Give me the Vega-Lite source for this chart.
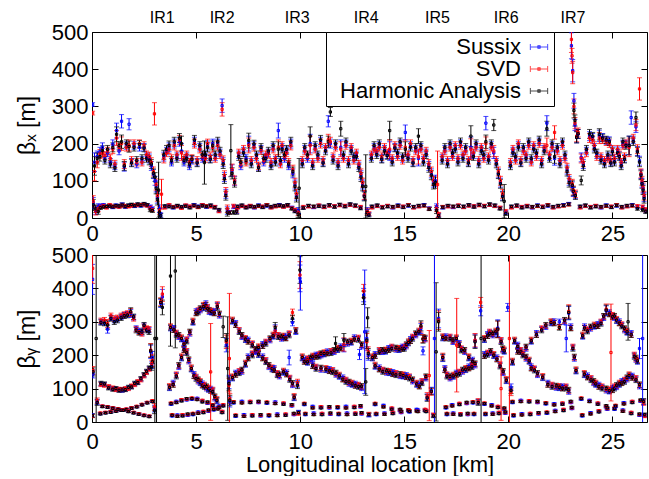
{
"$schema":"https://vega.github.io/schema/vega-lite/v6.json",
"padding":{"left":15,"top":9,"right":0,"bottom":0},
"spacing":-2,
"config":{
 "font":"Liberation Sans",
 "view":{"stroke":"black","strokeWidth":1},
 "axis":{"labelFont":"Liberation Sans","labelFontSize":22,"labelColor":"black","titleFont":"Liberation Sans","titleFontSize":23,"titleFontWeight":"normal","titleColor":"black","domain":false,"grid":false,"tickColor":"black","tickSize":-6,"labelFlush":false,"labelOverlap":false}
},
"resolve":{"scale":{"color":"independent"},"legend":{"color":"independent"}},
"datasets":{
"bx":[
{"k":0.03,"S":305,"V":282,"e":5},
{"k":0.06,"S":40,"V":45,"H":35,"e":15},
{"k":0.12,"S":150,"V":125,"H":140,"e":25},
{"k":0.18,"S":20,"V":18,"H":25,"e":10},
{"k":0.25,"S":165,"V":150,"H":160,"e":15},
{"k":0.3,"S":30,"V":25,"H":18,"e":8},
{"k":0.38,"S":178,"V":172,"H":165,"e":12},
{"k":0.5,"S":190,"V":175,"H":182,"e":12},
{"k":0.62,"S":160,"V":168,"H":155,"e":10},
{"k":0.75,"S":175,"V":180,"H":185,"e":10},
{"k":0.88,"S":150,"V":160,"H":145,"e":10},
{"k":1.0,"S":198,"V":185,"H":190,"e":12},
{"k":1.1,"S":140,"V":145,"H":135,"e":10},
{"k":1.18,"S":235,"V":215,"H":225,"e":20},
{"k":1.3,"S":180,"V":190,"H":195,"e":10},
{"k":1.42,"S":260,"V":200,"H":205,"e":18},
{"k":1.55,"S":138,"V":145,"H":140,"e":12},
{"k":1.65,"S":195,"V":190,"H":200,"e":10},
{"k":1.78,"S":252,"V":195,"H":192,"e":15},
{"k":1.9,"S":150,"V":155,"H":148,"e":10},
{"k":2.02,"S":195,"V":200,"H":190,"e":10},
{"k":2.15,"S":145,"V":150,"H":155,"e":10},
{"k":2.28,"S":190,"V":200,"H":198,"e":10},
{"k":2.4,"S":155,"V":150,"H":160,"e":10},
{"k":2.5,"S":190,"V":195,"H":188,"e":10},
{"k":2.62,"S":165,"V":170,"H":160,"e":10},
{"k":2.75,"S":160,"V":165,"H":155,"e":12},
{"k":2.85,"S":140,"V":150,"H":145,"e":12},
{"k":2.95,"S":118,"V":125,"H":120,"e":12},
{"k":3.0,"V":280,"e":30},
{"k":3.03,"S":100,"H":110,"e":12},
{"k":3.08,"S":85,"V":90,"H":80,"e":15},
{"k":3.14,"S":55,"V":60,"H":50,"e":15},
{"k":3.2,"H":75,"e":75},
{"k":3.24,"S":25,"V":20,"H":15,"e":10},
{"k":3.3,"S":8,"H":6,"e":6},
{"k":3.34,"V":64,"e":40},
{"k":0.4,"S":32,"V":30,"H":28,"e":5},
{"k":0.55,"S":35,"V":33,"H":30,"e":4},
{"k":0.7,"S":30,"V":28,"H":31,"e":4},
{"k":0.85,"S":33,"V":35,"H":32,"e":4},
{"k":1.0,"S":29,"V":31,"H":30,"e":4},
{"k":1.15,"S":34,"V":32,"H":33,"e":4},
{"k":1.3,"S":31,"V":30,"H":32,"e":4},
{"k":1.45,"S":36,"V":34,"H":35,"e":5},
{"k":1.6,"S":30,"V":32,"H":31,"e":4},
{"k":1.75,"S":33,"V":31,"H":34,"e":4},
{"k":1.9,"S":35,"V":33,"H":36,"e":4},
{"k":2.05,"S":32,"V":34,"H":33,"e":4},
{"k":2.2,"S":36,"V":35,"H":37,"e":4},
{"k":2.35,"S":33,"V":35,"H":34,"e":4},
{"k":2.5,"S":37,"V":36,"H":38,"e":4},
{"k":2.65,"S":34,"V":33,"H":35,"e":4},
{"k":2.8,"S":30,"V":28,"H":22,"e":5},
{"k":2.9,"S":25,"V":22,"H":20,"e":5},
{"k":3.45,"S":165,"V":160,"H":170,"e":12},
{"k":3.58,"S":180,"V":175,"H":185,"e":10},
{"k":3.7,"S":190,"V":185,"H":195,"e":12},
{"k":3.82,"S":150,"V":160,"H":155,"e":10},
{"k":3.95,"S":200,"V":195,"H":205,"e":12},
{"k":4.08,"S":165,"V":170,"H":160,"e":10},
{"k":4.2,"S":205,"V":210,"H":215,"e":12},
{"k":4.3,"S":180,"V":175,"H":200,"e":20},
{"k":4.42,"S":150,"V":160,"H":155,"e":10},
{"k":4.55,"S":165,"V":170,"H":160,"e":10},
{"k":4.68,"S":140,"V":150,"H":145,"e":10},
{"k":4.8,"S":155,"V":160,"H":158,"e":10},
{"k":4.92,"S":205,"V":200,"H":210,"e":12},
{"k":5.05,"S":150,"V":155,"H":148,"e":10},
{"k":5.18,"S":190,"V":185,"H":195,"e":10},
{"k":5.3,"S":160,"V":165,"H":170,"e":10},
{"k":5.4,"H":149,"e":58},
{"k":5.45,"S":165,"V":160,"H":170,"e":10},
{"k":5.55,"S":195,"V":200,"H":190,"e":12},
{"k":5.68,"S":160,"V":165,"H":158,"e":10},
{"k":5.8,"S":200,"V":190,"H":195,"e":12},
{"k":5.92,"S":165,"V":160,"H":170,"e":10},
{"k":6.04,"S":200,"V":195,"H":205,"e":12},
{"k":6.15,"S":175,"V":170,"H":180,"e":10},
{"k":6.25,"S":302,"V":292,"e":18},
{"k":6.3,"S":150,"V":155,"H":145,"e":12},
{"k":6.36,"S":110,"V":115,"H":105,"e":12},
{"k":6.43,"S":65,"V":70,"H":60,"e":12},
{"k":6.5,"S":20,"V":25,"H":15,"e":10},
{"k":6.67,"H":181,"e":70},
{"k":6.73,"S":128,"V":130,"H":120,"e":15},
{"k":6.85,"S":100,"V":101,"H":95,"e":12},
{"k":6.95,"S":20,"V":22,"H":18,"e":8},
{"k":3.5,"S":30,"V":28,"H":32,"e":4},
{"k":3.7,"S":33,"V":35,"H":31,"e":4},
{"k":3.9,"S":28,"V":30,"H":29,"e":4},
{"k":4.1,"S":32,"V":31,"H":33,"e":4},
{"k":4.3,"S":29,"V":27,"H":30,"e":4},
{"k":4.5,"S":33,"V":34,"H":32,"e":4},
{"k":4.7,"S":30,"V":31,"H":28,"e":4},
{"k":4.9,"S":35,"V":33,"H":34,"e":4},
{"k":5.1,"S":31,"V":29,"H":30,"e":4},
{"k":5.3,"S":34,"V":35,"H":33,"e":4},
{"k":5.5,"S":30,"V":32,"H":31,"e":4},
{"k":5.7,"S":33,"V":31,"H":34,"e":4},
{"k":5.9,"S":29,"V":30,"H":28,"e":4},
{"k":6.1,"S":20,"V":18,"H":22,"e":4},
{"k":6.6,"S":16,"V":15,"H":14,"e":4},
{"k":6.8,"S":30,"V":32,"H":15,"e":5},
{"k":7.05,"S":170,"V":175,"H":165,"e":10},
{"k":7.15,"S":140,"V":145,"H":150,"e":10},
{"k":7.28,"S":180,"V":185,"H":175,"e":10},
{"k":7.4,"S":160,"V":150,"H":155,"e":10},
{"k":7.53,"S":200,"V":195,"H":208,"e":20},
{"k":7.65,"S":150,"V":155,"H":145,"e":10},
{"k":7.78,"S":195,"V":190,"H":199,"e":10},
{"k":7.9,"S":165,"V":160,"H":170,"e":10},
{"k":8.0,"S":137,"V":140,"H":135,"e":10},
{"k":8.12,"S":185,"V":181,"H":190,"e":10},
{"k":8.25,"S":150,"V":155,"H":160,"e":10},
{"k":8.35,"S":164,"V":170,"H":160,"e":10},
{"k":8.47,"S":175,"V":173,"H":180,"e":10},
{"k":8.6,"S":145,"V":150,"H":140,"e":10},
{"k":8.7,"S":190,"V":185,"H":195,"e":10},
{"k":8.81,"S":155,"V":160,"H":150,"e":10},
{"k":8.95,"S":235,"V":190,"H":185,"e":20},
{"k":9.05,"S":150,"V":145,"H":155,"e":10},
{"k":9.13,"S":190,"V":195,"H":185,"e":10},
{"k":9.25,"S":160,"V":165,"H":170,"e":10},
{"k":9.35,"S":181,"V":175,"H":185,"e":10},
{"k":9.45,"S":140,"V":150,"H":145,"e":10},
{"k":9.55,"S":200,"V":195,"H":205,"e":12},
{"k":9.65,"S":120,"V":130,"H":125,"e":12},
{"k":9.75,"S":90,"V":95,"H":85,"e":12},
{"k":9.82,"S":60,"V":65,"H":55,"e":12},
{"k":9.9,"S":20,"V":15,"H":10,"e":8},
{"k":9.95,"H":80,"e":80},
{"k":7.0,"S":30,"V":28,"H":31,"e":4},
{"k":7.2,"S":33,"V":32,"H":34,"e":4},
{"k":7.4,"S":29,"V":30,"H":28,"e":4},
{"k":7.6,"S":32,"V":33,"H":31,"e":4},
{"k":7.8,"S":28,"V":29,"H":30,"e":4},
{"k":8.0,"S":34,"V":32,"H":33,"e":4},
{"k":8.2,"S":30,"V":31,"H":29,"e":4},
{"k":8.4,"S":33,"V":35,"H":34,"e":4},
{"k":8.6,"S":29,"V":28,"H":30,"e":4},
{"k":8.8,"S":32,"V":31,"H":33,"e":4},
{"k":9.0,"S":35,"V":33,"H":34,"e":4},
{"k":9.2,"S":31,"V":30,"H":32,"e":4},
{"k":9.4,"S":34,"V":33,"H":35,"e":4},
{"k":9.6,"S":28,"V":27,"H":25,"e":4},
{"k":9.75,"S":20,"V":22,"H":18,"e":4},
{"k":10.1,"S":150,"V":155,"H":145,"e":10},
{"k":10.22,"S":185,"V":180,"H":190,"e":10},
{"k":10.35,"S":160,"V":165,"H":170,"e":10},
{"k":10.48,"S":200,"V":195,"H":220,"e":25},
{"k":10.6,"S":145,"V":150,"H":140,"e":10},
{"k":10.72,"S":190,"V":185,"H":195,"e":10},
{"k":10.85,"S":165,"V":160,"H":170,"e":10},
{"k":10.98,"S":205,"V":200,"H":210,"e":12},
{"k":11.1,"S":150,"V":155,"H":148,"e":10},
{"k":11.22,"S":185,"V":190,"H":180,"e":10},
{"k":11.35,"S":260,"V":210,"H":205,"e":15},
{"k":11.45,"S":200,"V":205,"H":285,"e":12},
{"k":11.58,"S":160,"V":165,"H":155,"e":10},
{"k":11.7,"S":195,"V":190,"H":200,"e":10},
{"k":11.82,"S":145,"V":150,"H":140,"e":10},
{"k":11.95,"S":190,"V":185,"H":240,"e":20},
{"k":12.08,"S":165,"V":160,"H":170,"e":10},
{"k":12.2,"S":200,"V":195,"H":205,"e":10},
{"k":12.32,"S":150,"V":155,"H":145,"e":10},
{"k":12.45,"S":185,"V":190,"H":180,"e":10},
{"k":12.58,"S":160,"V":155,"H":165,"e":10},
{"k":12.7,"S":170,"V":175,"H":165,"e":10},
{"k":12.82,"S":140,"V":145,"H":135,"e":10},
{"k":12.92,"S":115,"V":120,"H":110,"e":12},
{"k":13.0,"S":90,"V":95,"H":85,"e":12},
{"k":13.08,"S":60,"V":62,"H":58,"e":12},
{"k":13.15,"H":85,"e":85},
{"k":13.22,"S":20,"V":18,"H":15,"e":8},
{"k":13.3,"S":10,"V":12,"H":8,"e":5},
{"k":10.15,"S":28,"V":30,"H":27,"e":4},
{"k":10.4,"S":32,"V":31,"H":33,"e":4},
{"k":10.65,"S":29,"V":30,"H":31,"e":4},
{"k":10.9,"S":33,"V":34,"H":32,"e":4},
{"k":11.15,"S":30,"V":29,"H":31,"e":4},
{"k":11.4,"S":34,"V":33,"H":35,"e":4},
{"k":11.65,"S":31,"V":32,"H":30,"e":4},
{"k":11.9,"S":35,"V":34,"H":36,"e":4},
{"k":12.15,"S":32,"V":33,"H":31,"e":4},
{"k":12.4,"S":36,"V":35,"H":37,"e":4},
{"k":12.65,"S":33,"V":32,"H":34,"e":4},
{"k":12.9,"S":28,"V":30,"H":26,"e":4},
{"k":13.42,"S":165,"V":170,"H":160,"e":10},
{"k":13.55,"S":190,"V":185,"H":195,"e":10},
{"k":13.68,"S":175,"V":180,"H":170,"e":10},
{"k":13.8,"S":195,"V":190,"H":200,"e":10},
{"k":13.92,"S":160,"V":165,"H":158,"e":10},
{"k":14.05,"S":185,"V":190,"H":180,"e":10},
{"k":14.18,"S":170,"V":175,"H":168,"e":10},
{"k":14.3,"S":180,"V":185,"H":235,"e":25},
{"k":14.42,"S":155,"V":160,"H":150,"e":10},
{"k":14.55,"S":190,"V":195,"H":188,"e":10},
{"k":14.68,"S":170,"V":165,"H":175,"e":10},
{"k":14.8,"S":200,"V":195,"H":205,"e":10},
{"k":14.92,"S":160,"V":155,"H":165,"e":10},
{"k":15.05,"S":230,"V":190,"H":185,"e":20},
{"k":15.18,"S":165,"V":170,"H":160,"e":10},
{"k":15.3,"S":195,"V":200,"H":190,"e":10},
{"k":15.42,"S":150,"V":155,"H":148,"e":10},
{"k":15.55,"S":185,"V":180,"H":190,"e":10},
{"k":15.68,"S":160,"V":165,"H":220,"e":20},
{"k":15.8,"S":190,"V":185,"H":195,"e":10},
{"k":15.92,"S":155,"V":160,"H":150,"e":10},
{"k":16.05,"S":175,"V":180,"H":170,"e":10},
{"k":16.18,"S":140,"V":145,"H":135,"e":12},
{"k":16.3,"S":120,"V":125,"H":115,"e":12},
{"k":16.4,"S":95,"V":100,"H":90,"e":12},
{"k":16.5,"S":100,"H":95,"e":15},
{"k":16.6,"V":90,"e":90},
{"k":16.55,"S":30,"V":25,"H":20,"e":8},
{"k":16.65,"S":8,"V":10,"H":6,"e":5},
{"k":13.45,"S":30,"V":28,"H":31,"e":4},
{"k":13.7,"S":33,"V":32,"H":34,"e":4},
{"k":13.95,"S":29,"V":30,"H":28,"e":4},
{"k":14.2,"S":32,"V":33,"H":31,"e":4},
{"k":14.45,"S":28,"V":29,"H":30,"e":4},
{"k":14.7,"S":34,"V":32,"H":33,"e":4},
{"k":14.95,"S":30,"V":31,"H":29,"e":4},
{"k":15.2,"S":33,"V":35,"H":34,"e":4},
{"k":15.45,"S":29,"V":28,"H":30,"e":4},
{"k":15.7,"S":32,"V":31,"H":33,"e":4},
{"k":15.95,"S":35,"V":33,"H":34,"e":4},
{"k":16.2,"S":26,"V":25,"H":24,"e":4},
{"k":16.82,"S":160,"V":165,"H":155,"e":10},
{"k":16.95,"S":185,"V":180,"H":190,"e":10},
{"k":17.08,"S":150,"V":155,"H":145,"e":10},
{"k":17.2,"S":195,"V":190,"H":200,"e":10},
{"k":17.32,"S":170,"V":165,"H":175,"e":10},
{"k":17.45,"S":190,"V":195,"H":185,"e":10},
{"k":17.58,"S":155,"V":160,"H":150,"e":10},
{"k":17.7,"S":200,"V":195,"H":205,"e":10},
{"k":17.82,"S":165,"V":170,"H":160,"e":10},
{"k":17.95,"S":185,"V":180,"H":190,"e":10},
{"k":18.08,"S":150,"V":155,"H":148,"e":10},
{"k":18.2,"S":190,"V":185,"H":220,"e":28},
{"k":18.32,"S":170,"V":175,"H":165,"e":10},
{"k":18.45,"S":195,"V":190,"H":200,"e":10},
{"k":18.58,"S":150,"V":155,"H":145,"e":10},
{"k":18.7,"S":185,"V":190,"H":180,"e":10},
{"k":18.82,"S":165,"V":160,"H":170,"e":10},
{"k":18.92,"S":255,"V":200,"H":205,"e":18},
{"k":19.05,"S":160,"V":165,"H":155,"e":10},
{"k":19.18,"S":195,"V":190,"H":200,"e":10},
{"k":19.3,"S":175,"V":180,"H":250,"e":15},
{"k":19.42,"S":150,"V":155,"H":145,"e":10},
{"k":19.52,"S":120,"V":125,"H":118,"e":12},
{"k":19.62,"S":95,"V":100,"H":92,"e":12},
{"k":19.72,"S":60,"V":65,"H":58,"e":12},
{"k":19.8,"H":45,"e":45},
{"k":19.88,"S":15,"V":18,"H":12,"e":5},
{"k":16.85,"S":28,"V":30,"H":29,"e":4},
{"k":17.1,"S":32,"V":31,"H":33,"e":4},
{"k":17.35,"S":29,"V":30,"H":31,"e":4},
{"k":17.6,"S":33,"V":34,"H":32,"e":4},
{"k":17.85,"S":30,"V":29,"H":31,"e":4},
{"k":18.1,"S":34,"V":33,"H":35,"e":4},
{"k":18.35,"S":31,"V":32,"H":30,"e":4},
{"k":18.6,"S":35,"V":34,"H":36,"e":4},
{"k":18.85,"S":32,"V":33,"H":31,"e":4},
{"k":19.1,"S":36,"V":35,"H":37,"e":4},
{"k":19.35,"S":33,"V":32,"H":34,"e":4},
{"k":19.6,"S":27,"V":28,"H":25,"e":4},
{"k":20.1,"S":145,"V":150,"H":140,"e":10},
{"k":20.22,"S":180,"V":185,"H":175,"e":10},
{"k":20.35,"S":160,"V":155,"H":165,"e":10},
{"k":20.48,"S":195,"V":200,"H":190,"e":10},
{"k":20.6,"S":150,"V":155,"H":148,"e":10},
{"k":20.72,"S":185,"V":180,"H":190,"e":10},
{"k":20.85,"S":165,"V":170,"H":160,"e":10},
{"k":20.98,"S":200,"V":195,"H":205,"e":10},
{"k":21.1,"S":155,"V":150,"H":160,"e":10},
{"k":21.22,"S":190,"V":195,"H":185,"e":10},
{"k":21.35,"S":170,"V":165,"H":175,"e":10},
{"k":21.48,"S":205,"V":200,"H":210,"e":10},
{"k":21.6,"S":150,"V":155,"H":145,"e":10},
{"k":21.72,"S":185,"V":190,"H":180,"e":10},
{"k":21.85,"S":255,"V":195,"H":240,"e":20},
{"k":21.98,"S":165,"V":170,"H":160,"e":10},
{"k":22.1,"S":195,"V":190,"H":200,"e":10},
{"k":22.22,"S":160,"V":230,"H":165,"e":18},
{"k":22.35,"S":185,"V":180,"H":190,"e":10},
{"k":22.48,"S":150,"V":155,"H":145,"e":10},
{"k":22.6,"S":200,"V":195,"H":205,"e":10},
{"k":22.72,"S":165,"V":160,"H":170,"e":10},
{"k":22.82,"S":130,"V":135,"H":125,"e":12},
{"k":22.92,"S":100,"V":105,"H":95,"e":12},
{"k":20.15,"S":30,"V":28,"H":31,"e":4},
{"k":20.4,"S":33,"V":32,"H":34,"e":4},
{"k":20.65,"S":29,"V":30,"H":28,"e":4},
{"k":20.9,"S":32,"V":33,"H":31,"e":4},
{"k":21.15,"S":28,"V":29,"H":30,"e":4},
{"k":21.4,"S":34,"V":32,"H":33,"e":4},
{"k":21.65,"S":30,"V":31,"H":29,"e":4},
{"k":21.9,"S":33,"V":35,"H":34,"e":4},
{"k":22.15,"S":29,"V":28,"H":30,"e":4},
{"k":22.4,"S":32,"V":31,"H":33,"e":4},
{"k":22.65,"S":35,"V":33,"H":34,"e":4},
{"k":22.9,"S":38,"V":36,"H":37,"e":4},
{"k":23.03,"S":463,"V":480,"e":35},
{"k":23.06,"V":436,"e":20},
{"k":23.09,"S":396,"V":391,"e":30},
{"k":23.15,"S":315,"V":300,"H":289,"e":20},
{"k":23.2,"S":250,"V":255,"H":262,"e":15},
{"k":23.28,"S":217,"V":220,"H":217,"e":15},
{"k":23.35,"S":226,"V":230,"H":226,"e":12},
{"k":23.07,"S":85,"V":92,"H":88,"e":12},
{"k":23.12,"S":70,"V":74,"H":72,"e":12},
{"k":23.22,"S":62,"V":65,"H":60,"e":10},
{"k":23.5,"S":163,"V":160,"H":101,"e":12},
{"k":23.6,"S":145,"V":150,"H":140,"e":12},
{"k":23.75,"S":180,"V":175,"H":185,"e":10},
{"k":23.9,"S":220,"V":215,"H":226,"e":12},
{"k":24.05,"S":217,"V":210,"H":220,"e":10},
{"k":24.13,"S":190,"V":195,"H":185,"e":10},
{"k":24.25,"S":170,"V":165,"H":175,"e":10},
{"k":24.37,"S":221,"V":215,"H":225,"e":15},
{"k":24.45,"S":160,"V":165,"H":155,"e":10},
{"k":24.53,"S":217,"V":210,"H":215,"e":10},
{"k":24.62,"S":150,"V":155,"H":145,"e":10},
{"k":24.7,"S":208,"V":205,"H":210,"e":10},
{"k":24.78,"S":165,"V":160,"H":170,"e":10},
{"k":24.85,"S":208,"V":200,"H":205,"e":10},
{"k":24.92,"S":150,"V":155,"H":148,"e":10},
{"k":25.0,"S":181,"V":185,"H":178,"e":10},
{"k":25.1,"S":155,"V":160,"H":150,"e":10},
{"k":25.25,"S":181,"V":185,"H":175,"e":10},
{"k":25.33,"S":168,"V":170,"H":165,"e":10},
{"k":25.42,"S":145,"V":150,"H":140,"e":10},
{"k":25.5,"S":199,"V":195,"H":205,"e":10},
{"k":25.58,"S":160,"V":165,"H":158,"e":10},
{"k":25.65,"S":199,"V":200,"H":195,"e":10},
{"k":25.8,"S":195,"V":190,"H":195,"e":25},
{"k":25.9,"S":270,"e":18},
{"k":26.0,"S":210,"V":215,"H":205,"e":10},
{"k":26.13,"S":245,"V":250,"H":270,"e":15},
{"k":26.2,"S":180,"V":185,"H":178,"e":12},
{"k":26.3,"V":347,"e":30},
{"k":26.3,"S":154,"H":150,"e":12},
{"k":26.37,"S":118,"V":120,"H":115,"e":12},
{"k":26.42,"S":95,"V":100,"H":92,"e":12},
{"k":26.47,"S":79,"V":82,"H":75,"e":12},
{"k":26.52,"S":56,"V":60,"H":52,"e":12},
{"k":26.6,"S":20,"V":22,"H":18,"e":6},
{"k":23.45,"S":30,"V":28,"H":31,"e":4},
{"k":23.7,"S":33,"V":32,"H":34,"e":4},
{"k":23.95,"S":29,"V":30,"H":28,"e":4},
{"k":24.2,"S":32,"V":33,"H":31,"e":4},
{"k":24.45,"S":28,"V":29,"H":30,"e":4},
{"k":24.7,"S":34,"V":32,"H":33,"e":4},
{"k":24.95,"S":30,"V":31,"H":29,"e":4},
{"k":25.2,"S":33,"V":35,"H":34,"e":4},
{"k":25.45,"S":29,"V":28,"H":30,"e":4},
{"k":25.7,"S":32,"V":31,"H":33,"e":4},
{"k":25.95,"S":35,"V":33,"H":34,"e":4},
{"k":26.2,"S":30,"V":32,"H":25,"e":4},
{"k":26.45,"S":28,"V":30,"H":22,"e":5}
],
"by":[
{"k":0.03,"S":427,"V":460,"e":45},
{"k":0.05,"S":144,"V":154,"H":150,"e":12},
{"k":0.02,"S":20,"V":18,"H":19,"e":5},
{"k":0.2,"H":250,"e":260},
{"k":0.25,"S":60,"V":64,"H":58,"e":8},
{"k":0.43,"S":300,"V":303,"H":298,"e":8},
{"k":0.6,"S":298,"V":305,"H":296,"e":8},
{"k":0.75,"S":278,"V":295,"H":290,"e":12},
{"k":0.91,"S":312,"V":318,"H":310,"e":8},
{"k":1.07,"S":305,"V":310,"H":300,"e":8},
{"k":1.22,"S":308,"V":312,"H":305,"e":8},
{"k":1.4,"S":315,"V":318,"H":312,"e":8},
{"k":1.55,"S":320,"V":322,"H":318,"e":8},
{"k":1.7,"S":323,"V":325,"H":320,"e":8},
{"k":1.86,"S":325,"V":328,"H":330,"e":12},
{"k":2.0,"S":313,"V":310,"H":315,"e":8},
{"k":2.12,"S":280,"V":278,"H":275,"e":8},
{"k":2.26,"S":273,"V":270,"H":268,"e":8},
{"k":2.4,"S":268,"V":265,"H":270,"e":8},
{"k":2.5,"S":288,"V":285,"H":290,"e":8},
{"k":2.62,"S":278,"V":280,"H":275,"e":8},
{"k":2.74,"S":275,"V":278,"H":270,"e":8},
{"k":2.82,"S":210,"V":215,"H":213,"e":20},
{"k":2.9,"S":193,"V":185,"H":180,"e":18},
{"k":0.43,"S":114,"V":112,"H":116,"e":6},
{"k":0.6,"S":112,"V":110,"H":114,"e":6},
{"k":0.8,"S":104,"V":106,"H":102,"e":6},
{"k":1.0,"S":100,"V":102,"H":98,"e":6},
{"k":1.15,"S":99,"V":97,"H":100,"e":6},
{"k":1.3,"S":96,"V":98,"H":95,"e":6},
{"k":1.45,"S":95,"V":97,"H":96,"e":6},
{"k":1.6,"S":98,"V":100,"H":97,"e":6},
{"k":1.75,"S":102,"V":100,"H":104,"e":6},
{"k":1.9,"S":106,"V":108,"H":105,"e":6},
{"k":2.05,"S":114,"V":112,"H":116,"e":6},
{"k":2.2,"S":119,"V":121,"H":118,"e":6},
{"k":2.35,"S":128,"V":126,"H":130,"e":6},
{"k":2.5,"S":140,"V":138,"H":142,"e":6},
{"k":2.62,"S":150,"V":148,"H":152,"e":6},
{"k":2.75,"S":160,"V":158,"H":162,"e":6},
{"k":2.87,"S":170,"V":175,"H":165,"e":10},
{"k":0.4,"S":25,"V":27,"H":24,"e":3},
{"k":0.65,"S":28,"V":29,"H":27,"e":3},
{"k":0.9,"S":30,"V":32,"H":29,"e":3},
{"k":1.15,"S":33,"V":34,"H":32,"e":3},
{"k":1.4,"S":35,"V":36,"H":35,"e":3},
{"k":1.65,"S":38,"V":39,"H":37,"e":3},
{"k":1.9,"S":42,"V":43,"H":41,"e":3},
{"k":2.15,"S":46,"V":47,"H":45,"e":3},
{"k":2.4,"S":52,"V":53,"H":51,"e":3},
{"k":2.65,"S":58,"V":59,"H":57,"e":3},
{"k":2.9,"S":62,"V":64,"H":61,"e":3},
{"k":0.5,"S":47,"V":48,"H":46,"e":3},
{"k":0.75,"S":45,"V":46,"H":44,"e":3},
{"k":1.0,"S":42,"V":43,"H":41,"e":3},
{"k":1.25,"S":39,"V":40,"H":38,"e":3},
{"k":1.5,"S":36,"V":37,"H":35,"e":3},
{"k":1.75,"S":32,"V":33,"H":31,"e":3},
{"k":2.0,"S":28,"V":29,"H":27,"e":3},
{"k":2.25,"S":24,"V":25,"H":23,"e":3},
{"k":2.5,"S":20,"V":21,"H":19,"e":3},
{"k":2.75,"S":17,"V":18,"H":16,"e":3},
{"k":3.02,"H":250,"e":260},
{"k":3.1,"H":250,"e":260},
{"k":3.0,"S":40,"V":45,"H":35,"e":10},
{"k":3.3,"S":355,"V":360,"H":358,"e":12},
{"k":3.38,"S":375,"V":383,"H":343,"e":22},
{"k":3.77,"H":437,"e":210},
{"k":4.0,"H":452,"e":230},
{"k":3.77,"S":281,"V":286,"H":283,"e":8},
{"k":3.93,"S":281,"V":277,"H":276,"e":8},
{"k":4.05,"S":265,"V":267,"H":262,"e":8},
{"k":4.17,"S":255,"V":258,"H":260,"e":8},
{"k":4.3,"S":248,"V":253,"H":250,"e":8},
{"k":4.42,"S":238,"V":234,"H":233,"e":8},
{"k":4.55,"S":210,"V":212,"H":207,"e":8},
{"k":4.65,"S":182,"V":185,"H":187,"e":8},
{"k":4.77,"S":158,"V":163,"H":160,"e":8},
{"k":4.9,"S":143,"V":139,"H":138,"e":8},
{"k":5.0,"S":133,"V":135,"H":130,"e":8},
{"k":5.1,"S":122,"V":125,"H":127,"e":8},
{"k":5.2,"S":117,"V":122,"H":119,"e":8},
{"k":5.3,"S":115,"V":111,"H":110,"e":8},
{"k":5.4,"S":109,"V":111,"H":106,"e":8},
{"k":5.5,"S":101,"V":104,"H":106,"e":8},
{"k":5.6,"S":97,"V":102,"H":99,"e":8},
{"k":5.7,"S":99,"V":95,"H":94,"e":8},
{"k":5.8,"S":94,"V":96,"H":91,"e":8},
{"k":5.9,"S":71,"V":74,"H":76,"e":8},
{"k":6.0,"S":63,"V":68,"H":65,"e":8},
{"k":3.72,"S":102,"V":107,"H":104,"e":8},
{"k":3.9,"S":117,"V":113,"H":112,"e":8},
{"k":4.05,"S":140,"V":142,"H":137,"e":8},
{"k":4.17,"S":165,"V":168,"H":170,"e":8},
{"k":4.3,"S":191,"V":196,"H":193,"e":8},
{"k":4.42,"S":221,"V":217,"H":216,"e":8},
{"k":4.55,"S":245,"V":247,"H":242,"e":8},
{"k":4.7,"S":265,"V":268,"H":270,"e":8},
{"k":4.85,"S":298,"V":303,"H":300,"e":8},
{"k":5.0,"S":331,"V":327,"H":326,"e":8},
{"k":5.1,"S":332,"V":334,"H":329,"e":8},
{"k":5.2,"S":335,"V":338,"H":340,"e":8},
{"k":5.35,"S":343,"V":348,"H":345,"e":10},
{"k":5.47,"S":353,"V":349,"H":348,"e":10},
{"k":5.55,"S":342,"V":344,"H":339,"e":8},
{"k":5.63,"S":330,"V":333,"H":335,"e":8},
{"k":5.75,"S":328,"V":333,"H":330,"e":8},
{"k":5.87,"S":331,"V":327,"H":326,"e":8},
{"k":6.02,"S":348,"V":350,"H":345,"e":10},
{"k":6.12,"S":319,"V":322,"H":324,"e":8},
{"k":3.8,"S":53,"V":57,"H":55,"e":3},
{"k":4.05,"S":62,"V":59,"H":58,"e":3},
{"k":4.3,"S":65,"V":67,"H":63,"e":3},
{"k":4.55,"S":66,"V":68,"H":70,"e":3},
{"k":4.8,"S":68,"V":72,"H":70,"e":3},
{"k":5.05,"S":71,"V":68,"H":67,"e":3},
{"k":5.3,"S":63,"V":65,"H":60,"e":3},
{"k":5.55,"S":56,"V":58,"H":60,"e":3},
{"k":5.8,"S":48,"V":52,"H":50,"e":3},
{"k":6.05,"S":43,"V":40,"H":39,"e":3},
{"k":6.25,"S":30,"V":32,"H":28,"e":3},
{"k":3.85,"S":18,"V":22,"H":20,"e":3},
{"k":4.1,"S":21,"V":18,"H":17,"e":3},
{"k":4.35,"S":20,"V":22,"H":18,"e":3},
{"k":4.6,"S":20,"V":22,"H":24,"e":3},
{"k":4.85,"S":22,"V":26,"H":24,"e":3},
{"k":5.1,"S":30,"V":27,"H":26,"e":3},
{"k":5.35,"S":30,"V":32,"H":28,"e":3},
{"k":5.6,"S":32,"V":34,"H":36,"e":3},
{"k":5.85,"S":36,"V":40,"H":38,"e":3},
{"k":6.1,"S":48,"V":45,"H":44,"e":3},
{"k":6.3,"S":50,"V":52,"H":48,"e":3},
{"k":5.7,"V":150,"e":145},
{"k":6.3,"H":285,"e":32},
{"k":6.45,"S":230,"V":240,"H":245,"e":20},
{"k":6.52,"H":160,"e":155},
{"k":6.6,"V":190,"e":195},
{"k":6.58,"S":120,"V":110,"H":115,"e":20},
{"k":6.62,"S":60,"V":70,"H":65,"e":15},
{"k":6.75,"S":301,"V":306,"H":303,"e":8},
{"k":6.9,"S":296,"V":292,"H":291,"e":8},
{"k":7.07,"S":273,"V":275,"H":270,"e":8},
{"k":7.2,"S":255,"V":258,"H":260,"e":8},
{"k":7.37,"S":246,"V":251,"H":248,"e":8},
{"k":7.5,"S":246,"V":242,"H":241,"e":8},
{"k":7.7,"S":233,"V":235,"H":230,"e":8},
{"k":7.85,"S":210,"V":213,"H":215,"e":8},
{"k":8.0,"S":201,"V":206,"H":203,"e":8},
{"k":8.2,"S":196,"V":192,"H":191,"e":8},
{"k":8.35,"S":183,"V":185,"H":180,"e":8},
{"k":8.5,"S":165,"V":168,"H":170,"e":8},
{"k":8.65,"S":158,"V":163,"H":160,"e":8},
{"k":8.75,"S":161,"V":157,"H":156,"e":8},
{"k":8.9,"S":144,"V":146,"H":141,"e":8},
{"k":9.0,"S":137,"V":140,"H":142,"e":8},
{"k":9.2,"S":148,"V":153,"H":150,"e":8},
{"k":9.35,"S":148,"V":144,"H":143,"e":8},
{"k":9.5,"S":130,"V":132,"H":127,"e":8},
{"k":9.63,"S":111,"V":114,"H":116,"e":8},
{"k":9.71,"S":72,"V":77,"H":74,"e":8},
{"k":6.75,"S":131,"V":136,"H":133,"e":8},
{"k":6.9,"S":147,"V":143,"H":142,"e":8},
{"k":7.07,"S":150,"V":152,"H":147,"e":8},
{"k":7.2,"S":151,"V":154,"H":156,"e":8},
{"k":7.37,"S":172,"V":177,"H":174,"e":8},
{"k":7.5,"S":196,"V":192,"H":191,"e":8},
{"k":7.7,"S":203,"V":205,"H":200,"e":8},
{"k":7.9,"S":213,"V":216,"H":218,"e":8},
{"k":8.0,"S":221,"V":226,"H":223,"e":8},
{"k":8.2,"S":233,"V":229,"H":228,"e":8},
{"k":8.35,"S":238,"V":240,"H":235,"e":8},
{"k":8.55,"S":245,"V":248,"H":250,"e":8},
{"k":8.7,"S":256,"V":261,"H":258,"e":8},
{"k":8.8,"S":276,"V":272,"H":283,"e":15},
{"k":8.95,"S":258,"V":260,"H":255,"e":8},
{"k":9.1,"S":250,"V":253,"H":255,"e":8},
{"k":9.2,"S":253,"V":258,"H":255,"e":8},
{"k":9.31,"S":256,"V":252,"H":251,"e":8},
{"k":9.47,"S":263,"V":265,"H":260,"e":8},
{"k":9.63,"S":298,"V":328,"H":310,"e":10},
{"k":9.79,"S":270,"V":275,"H":273,"e":8},
{"k":9.47,"S":193,"e":22},
{"k":6.8,"S":57,"V":61,"H":59,"e":3},
{"k":7.2,"S":62,"V":58,"H":57,"e":3},
{"k":7.6,"S":60,"V":62,"H":58,"e":3},
{"k":8.0,"S":58,"V":60,"H":62,"e":3},
{"k":8.4,"S":56,"V":60,"H":58,"e":3},
{"k":8.8,"S":60,"V":56,"H":55,"e":3},
{"k":9.2,"S":55,"V":57,"H":53,"e":3},
{"k":9.6,"S":48,"V":50,"H":52,"e":3},
{"k":6.9,"S":17,"V":21,"H":19,"e":3},
{"k":7.3,"S":22,"V":18,"H":17,"e":3},
{"k":7.7,"S":20,"V":22,"H":18,"e":3},
{"k":8.1,"S":18,"V":20,"H":22,"e":3},
{"k":8.5,"S":18,"V":22,"H":20,"e":3},
{"k":8.9,"S":24,"V":20,"H":19,"e":3},
{"k":9.3,"S":22,"V":24,"H":20,"e":3},
{"k":9.7,"S":22,"V":24,"H":26,"e":3},
{"k":9.99,"S":430,"V":440,"H":455,"e":40},
{"k":10.01,"S":420,"e":85},
{"k":9.87,"S":114,"V":118,"H":110,"e":10},
{"k":9.92,"S":30,"V":25,"H":28,"e":5},
{"k":10.1,"S":191,"V":196,"H":193,"e":8},
{"k":10.2,"S":186,"V":182,"H":181,"e":8},
{"k":10.35,"S":188,"V":190,"H":185,"e":8},
{"k":10.5,"S":187,"V":190,"H":192,"e":8},
{"k":10.6,"S":193,"V":198,"H":195,"e":8},
{"k":10.76,"S":201,"V":197,"H":196,"e":8},
{"k":10.9,"S":200,"V":202,"H":197,"e":8},
{"k":11.0,"S":200,"V":203,"H":205,"e":8},
{"k":11.15,"S":203,"V":208,"H":205,"e":8},
{"k":11.3,"S":211,"V":207,"H":206,"e":8},
{"k":11.48,"S":210,"V":212,"H":207,"e":8},
{"k":11.63,"S":210,"V":213,"H":215,"e":8},
{"k":11.8,"S":216,"V":221,"H":218,"e":8},
{"k":11.95,"S":226,"V":222,"H":221,"e":8},
{"k":12.1,"S":230,"V":232,"H":245,"e":20},
{"k":12.27,"S":235,"V":238,"H":240,"e":8},
{"k":12.45,"S":238,"V":243,"H":240,"e":8},
{"k":12.6,"S":253,"V":249,"H":248,"e":8},
{"k":12.8,"S":250,"V":252,"H":247,"e":8},
{"k":12.95,"S":227,"V":230,"H":232,"e":8},
{"k":11.7,"H":235,"e":20},
{"k":12.85,"S":202,"e":15},
{"k":10.35,"S":178,"V":183,"H":180,"e":8},
{"k":10.6,"S":173,"V":169,"H":168,"e":8},
{"k":10.76,"S":163,"V":165,"H":160,"e":8},
{"k":11.0,"S":157,"V":160,"H":162,"e":8},
{"k":11.24,"S":156,"V":161,"H":158,"e":8},
{"k":11.4,"S":158,"V":154,"H":153,"e":8},
{"k":11.56,"S":153,"V":155,"H":150,"e":8},
{"k":11.72,"S":142,"V":145,"H":147,"e":8},
{"k":11.88,"S":136,"V":141,"H":138,"e":8},
{"k":12.05,"S":133,"V":129,"H":128,"e":8},
{"k":12.2,"S":124,"V":126,"H":121,"e":8},
{"k":12.35,"S":115,"V":118,"H":120,"e":8},
{"k":12.5,"S":112,"V":117,"H":114,"e":8},
{"k":12.65,"S":114,"V":110,"H":109,"e":8},
{"k":12.8,"S":109,"V":111,"H":106,"e":8},
{"k":12.95,"S":102,"V":105,"H":107,"e":8},
{"k":10.2,"S":52,"V":56,"H":54,"e":3},
{"k":10.6,"S":47,"V":43,"H":42,"e":3},
{"k":11.0,"S":44,"V":46,"H":42,"e":3},
{"k":11.4,"S":42,"V":44,"H":46,"e":3},
{"k":11.8,"S":42,"V":46,"H":44,"e":3},
{"k":12.2,"S":47,"V":43,"H":42,"e":3},
{"k":12.6,"S":45,"V":47,"H":43,"e":3},
{"k":12.9,"S":45,"V":47,"H":49,"e":3},
{"k":10.25,"S":22,"V":26,"H":24,"e":3},
{"k":10.65,"S":27,"V":23,"H":22,"e":3},
{"k":11.05,"S":24,"V":26,"H":22,"e":3},
{"k":11.45,"S":23,"V":25,"H":27,"e":3},
{"k":11.85,"S":22,"V":26,"H":24,"e":3},
{"k":12.25,"S":27,"V":23,"H":22,"e":3},
{"k":12.65,"S":25,"V":27,"H":23,"e":3},
{"k":12.95,"S":24,"V":26,"H":28,"e":3},
{"k":13.05,"S":380,"V":392,"H":372,"e":20},
{"k":13.1,"S":270,"e":185},
{"k":13.24,"H":312,"e":30},
{"k":13.2,"S":250,"V":240,"H":245,"e":25},
{"k":13.27,"S":200,"V":210,"H":205,"e":15},
{"k":13.15,"H":120,"e":40},
{"k":13.3,"S":20,"V":24,"H":22,"e":5},
{"k":13.47,"S":191,"V":196,"H":193,"e":8},
{"k":13.6,"S":203,"V":199,"H":198,"e":8},
{"k":13.8,"S":213,"V":215,"H":210,"e":8},
{"k":13.95,"S":210,"V":213,"H":215,"e":8},
{"k":14.1,"S":211,"V":216,"H":213,"e":8},
{"k":14.25,"S":221,"V":217,"H":216,"e":8},
{"k":14.4,"S":223,"V":225,"H":220,"e":8},
{"k":14.6,"S":217,"V":220,"H":222,"e":8},
{"k":14.75,"S":216,"V":221,"H":218,"e":8},
{"k":14.9,"S":225,"V":221,"H":220,"e":8},
{"k":15.0,"S":223,"V":225,"H":220,"e":8},
{"k":15.1,"S":227,"V":230,"H":232,"e":8},
{"k":15.2,"S":236,"V":241,"H":238,"e":8},
{"k":15.3,"S":248,"V":244,"H":243,"e":8},
{"k":15.4,"S":253,"V":255,"H":250,"e":8},
{"k":15.55,"S":260,"V":263,"H":265,"e":8},
{"k":15.7,"S":268,"V":273,"H":270,"e":8},
{"k":15.8,"S":280,"V":284,"H":288,"e":15},
{"k":15.9,"S":213,"V":250,"H":248,"e":12},
{"k":16.0,"S":248,"V":250,"H":252,"e":8},
{"k":13.6,"S":166,"V":171,"H":168,"e":8},
{"k":13.8,"S":163,"V":159,"H":158,"e":8},
{"k":13.97,"S":154,"V":156,"H":151,"e":8},
{"k":14.15,"S":148,"V":151,"H":153,"e":8},
{"k":14.3,"S":147,"V":152,"H":149,"e":8},
{"k":14.45,"S":149,"V":145,"H":144,"e":8},
{"k":14.6,"S":144,"V":146,"H":141,"e":8},
{"k":14.8,"S":138,"V":141,"H":143,"e":8},
{"k":14.95,"S":137,"V":142,"H":139,"e":8},
{"k":15.1,"S":140,"V":136,"H":135,"e":8},
{"k":15.25,"S":134,"V":136,"H":131,"e":8},
{"k":15.4,"S":122,"V":125,"H":127,"e":8},
{"k":15.6,"S":112,"V":117,"H":114,"e":8},
{"k":15.72,"S":112,"V":108,"H":107,"e":8},
{"k":15.85,"S":120,"V":122,"H":117,"e":8},
{"k":16.04,"S":131,"V":134,"H":136,"e":8},
{"k":13.6,"S":52,"V":56,"H":54,"e":3},
{"k":14.0,"S":50,"V":46,"H":45,"e":3},
{"k":14.4,"S":40,"V":42,"H":38,"e":3},
{"k":14.8,"S":34,"V":36,"H":38,"e":3},
{"k":15.2,"S":33,"V":37,"H":35,"e":3},
{"k":15.6,"S":38,"V":34,"H":33,"e":3},
{"k":16.0,"S":36,"V":38,"H":34,"e":3},
{"k":13.65,"S":22,"V":26,"H":24,"e":3},
{"k":14.05,"S":27,"V":24,"H":23,"e":3},
{"k":14.45,"S":27,"V":29,"H":25,"e":3},
{"k":14.85,"S":28,"V":30,"H":32,"e":3},
{"k":15.25,"S":30,"V":34,"H":32,"e":3},
{"k":15.65,"S":36,"V":32,"H":31,"e":3},
{"k":16.05,"S":33,"V":35,"H":31,"e":3},
{"k":16.45,"S":250,"e":260},
{"k":16.53,"H":210,"e":207},
{"k":16.2,"V":139,"e":135},
{"k":16.3,"S":94,"V":90,"H":92,"e":10},
{"k":16.1,"S":74,"V":78,"H":72,"e":10},
{"k":16.65,"S":310,"V":305,"H":300,"e":28},
{"k":16.4,"S":20,"V":22,"H":18,"e":5},
{"k":16.85,"S":251,"V":256,"H":253,"e":8},
{"k":17.0,"S":256,"V":252,"H":251,"e":8},
{"k":17.2,"S":253,"V":255,"H":250,"e":8},
{"k":17.34,"S":240,"V":243,"H":245,"e":8},
{"k":17.5,"S":248,"V":253,"H":250,"e":8},
{"k":17.64,"S":236,"V":232,"H":231,"e":8},
{"k":17.74,"S":218,"V":220,"H":215,"e":8},
{"k":17.9,"S":210,"V":213,"H":215,"e":8},
{"k":18.1,"S":191,"V":196,"H":193,"e":8},
{"k":18.28,"S":186,"V":182,"H":181,"e":8},
{"k":18.4,"S":243,"V":245,"H":240,"e":20},
{"k":17.52,"V":230,"e":140},
{"k":16.85,"S":191,"V":196,"H":193,"e":10},
{"k":16.95,"S":161,"V":157,"H":156,"e":8},
{"k":17.05,"S":140,"V":142,"H":137,"e":8},
{"k":17.2,"S":131,"V":134,"H":136,"e":8},
{"k":17.35,"S":136,"V":141,"H":138,"e":8},
{"k":17.5,"S":147,"V":143,"H":142,"e":8},
{"k":17.65,"S":148,"V":150,"H":145,"e":8},
{"k":17.8,"S":151,"V":154,"H":156,"e":8},
{"k":17.95,"S":156,"V":161,"H":158,"e":8},
{"k":18.1,"S":166,"V":162,"H":161,"e":8},
{"k":18.25,"S":168,"V":170,"H":165,"e":8},
{"k":18.4,"S":170,"V":173,"H":175,"e":8},
{"k":17.0,"S":42,"V":46,"H":44,"e":3},
{"k":17.3,"S":52,"V":49,"H":48,"e":3},
{"k":17.65,"S":54,"V":56,"H":52,"e":3},
{"k":18.0,"S":55,"V":57,"H":59,"e":3},
{"k":18.3,"S":57,"V":61,"H":59,"e":3},
{"k":17.05,"S":22,"V":26,"H":24,"e":3},
{"k":17.35,"S":27,"V":24,"H":23,"e":3},
{"k":17.7,"S":23,"V":25,"H":21,"e":3},
{"k":18.05,"S":22,"V":24,"H":26,"e":3},
{"k":18.35,"S":22,"V":26,"H":24,"e":3},
{"k":18.69,"H":250,"e":260},
{"k":18.67,"S":333,"V":358,"e":15},
{"k":18.55,"S":60,"V":62,"H":58,"e":8},
{"k":18.85,"S":246,"V":251,"H":248,"e":8},
{"k":19.0,"S":263,"V":259,"H":258,"e":8},
{"k":19.1,"S":268,"V":270,"H":265,"e":8},
{"k":19.25,"S":260,"V":263,"H":265,"e":8},
{"k":19.4,"S":268,"V":273,"H":270,"e":8},
{"k":19.49,"S":281,"V":277,"H":278,"e":25},
{"k":19.65,"S":243,"V":245,"H":240,"e":8},
{"k":19.73,"S":215,"V":218,"H":220,"e":8},
{"k":19.8,"S":211,"V":216,"H":213,"e":8},
{"k":18.85,"S":203,"V":199,"H":198,"e":8},
{"k":19.0,"S":205,"V":207,"H":202,"e":8},
{"k":19.15,"S":207,"V":210,"H":212,"e":8},
{"k":19.3,"S":198,"V":203,"H":200,"e":8},
{"k":19.45,"S":193,"V":189,"H":188,"e":8},
{"k":19.6,"S":170,"V":172,"H":167,"e":8},
{"k":19.75,"S":147,"V":150,"H":152,"e":8},
{"k":19.9,"S":123,"V":128,"H":125,"e":8},
{"k":19.97,"S":343,"e":12},
{"k":20.05,"V":250,"e":260},
{"k":19.65,"V":100,"e":95},
{"k":20.13,"S":104,"V":89,"H":95,"e":10},
{"k":18.85,"S":53,"V":57,"H":55,"e":3},
{"k":19.2,"S":52,"V":49,"H":48,"e":3},
{"k":19.5,"S":45,"V":47,"H":43,"e":3},
{"k":19.8,"S":38,"V":40,"H":42,"e":3},
{"k":18.9,"S":22,"V":26,"H":24,"e":3},
{"k":19.25,"S":27,"V":24,"H":23,"e":3},
{"k":19.55,"S":27,"V":29,"H":25,"e":3},
{"k":19.85,"S":26,"V":28,"H":30,"e":3},
{"k":20.3,"S":241,"V":246,"H":243,"e":8},
{"k":20.45,"S":231,"V":227,"H":226,"e":8},
{"k":20.6,"S":213,"V":215,"H":210,"e":8},
{"k":20.85,"S":190,"V":193,"H":195,"e":8},
{"k":21.0,"S":181,"V":186,"H":183,"e":8},
{"k":21.1,"S":166,"V":162,"H":161,"e":8},
{"k":21.25,"S":158,"V":160,"H":155,"e":8},
{"k":21.4,"S":141,"V":144,"H":146,"e":8},
{"k":21.65,"S":132,"V":137,"H":134,"e":8},
{"k":21.9,"S":117,"V":113,"H":112,"e":8},
{"k":22.1,"S":109,"V":111,"H":106,"e":8},
{"k":22.3,"S":103,"V":106,"H":108,"e":8},
{"k":22.45,"S":102,"V":107,"H":104,"e":8},
{"k":22.6,"S":106,"V":102,"H":101,"e":8},
{"k":22.77,"S":104,"V":106,"H":101,"e":8},
{"k":22.9,"S":91,"V":94,"H":96,"e":8},
{"k":20.2,"S":178,"V":183,"H":180,"e":8},
{"k":20.45,"S":216,"V":212,"H":211,"e":8},
{"k":20.7,"S":203,"V":205,"H":200,"e":8},
{"k":20.85,"S":220,"V":223,"H":225,"e":8},
{"k":21.1,"S":241,"V":246,"H":243,"e":8},
{"k":21.35,"S":266,"V":262,"H":261,"e":8},
{"k":21.6,"S":278,"V":280,"H":275,"e":8},
{"k":21.8,"S":285,"V":288,"H":290,"e":8},
{"k":22.05,"S":296,"V":301,"H":298,"e":8},
{"k":22.2,"S":301,"V":297,"H":296,"e":8},
{"k":22.45,"S":300,"V":285,"H":283,"e":8},
{"k":22.7,"S":300,"V":303,"H":305,"e":8},
{"k":22.9,"S":326,"V":331,"H":328,"e":20},
{"k":23.0,"S":286,"V":282,"H":281,"e":8},
{"k":23.1,"S":223,"V":225,"H":220,"e":8},
{"k":23.17,"S":190,"V":193,"H":195,"e":8},
{"k":23.25,"S":152,"V":157,"H":154,"e":8},
{"k":22.78,"S":250,"e":40},
{"k":20.2,"S":58,"V":62,"H":60,"e":3},
{"k":20.6,"S":65,"V":62,"H":61,"e":3},
{"k":21.0,"S":62,"V":64,"H":60,"e":3},
{"k":21.4,"S":58,"V":60,"H":62,"e":3},
{"k":21.8,"S":54,"V":58,"H":56,"e":3},
{"k":22.2,"S":55,"V":52,"H":51,"e":3},
{"k":22.6,"S":55,"V":57,"H":53,"e":3},
{"k":23.0,"S":58,"V":60,"H":62,"e":3},
{"k":20.25,"S":18,"V":22,"H":20,"e":3},
{"k":20.65,"S":25,"V":22,"H":21,"e":3},
{"k":21.05,"S":24,"V":26,"H":22,"e":3},
{"k":21.45,"S":24,"V":26,"H":28,"e":3},
{"k":21.85,"S":26,"V":30,"H":28,"e":3},
{"k":22.25,"S":35,"V":32,"H":31,"e":3},
{"k":22.65,"S":36,"V":38,"H":34,"e":3},
{"k":23.05,"S":40,"V":42,"H":44,"e":3},
{"k":23.57,"S":256,"V":261,"H":258,"e":8},
{"k":23.66,"S":286,"V":282,"H":281,"e":8},
{"k":23.8,"S":275,"V":277,"H":272,"e":8},
{"k":23.95,"S":280,"V":283,"H":285,"e":8},
{"k":24.13,"S":286,"V":291,"H":288,"e":8},
{"k":24.3,"S":293,"V":289,"H":288,"e":8},
{"k":24.45,"S":298,"V":300,"H":295,"e":8},
{"k":24.58,"S":312,"V":315,"H":317,"e":8},
{"k":24.7,"S":333,"V":338,"H":335,"e":15},
{"k":24.85,"S":328,"V":324,"H":323,"e":8},
{"k":25.0,"S":318,"V":320,"H":315,"e":8},
{"k":25.1,"S":312,"V":315,"H":317,"e":8},
{"k":25.2,"S":303,"V":308,"H":305,"e":8},
{"k":25.33,"S":301,"V":297,"H":296,"e":8},
{"k":25.45,"S":290,"V":292,"H":287,"e":8},
{"k":25.58,"S":275,"V":278,"H":280,"e":8},
{"k":25.7,"S":268,"V":273,"H":270,"e":8},
{"k":25.9,"S":266,"V":262,"H":261,"e":8},
{"k":26.05,"S":199,"V":201,"H":196,"e":8},
{"k":26.13,"S":187,"V":190,"H":192,"e":8},
{"k":26.2,"S":181,"V":186,"H":183,"e":8},
{"k":26.3,"S":220,"e":30},
{"k":25.75,"H":300,"e":55},
{"k":24.93,"V":208,"e":145},
{"k":23.65,"S":141,"V":146,"H":143,"e":8},
{"k":23.8,"S":139,"V":135,"H":134,"e":8},
{"k":23.97,"S":129,"V":131,"H":126,"e":8},
{"k":24.1,"S":117,"V":120,"H":122,"e":8},
{"k":24.2,"S":112,"V":117,"H":114,"e":8},
{"k":24.35,"S":111,"V":107,"H":106,"e":8},
{"k":24.5,"S":104,"V":106,"H":101,"e":8},
{"k":24.7,"S":95,"V":98,"H":100,"e":8},
{"k":24.85,"S":92,"V":97,"H":94,"e":8},
{"k":25.0,"S":101,"V":97,"H":96,"e":8},
{"k":25.1,"S":104,"V":106,"H":101,"e":8},
{"k":25.2,"S":105,"V":108,"H":110,"e":8},
{"k":25.33,"S":112,"V":117,"H":114,"e":8},
{"k":25.45,"S":122,"V":118,"H":117,"e":8},
{"k":25.58,"S":124,"V":126,"H":121,"e":8},
{"k":25.7,"S":128,"V":131,"H":133,"e":8},
{"k":25.8,"S":137,"V":142,"H":139,"e":8},
{"k":25.95,"S":138,"V":134,"H":133,"e":8},
{"k":26.13,"S":129,"V":131,"H":126,"e":8},
{"k":26.3,"S":107,"V":110,"H":112,"e":8},
{"k":23.5,"S":68,"V":72,"H":70,"e":3},
{"k":23.9,"S":65,"V":62,"H":61,"e":3},
{"k":24.3,"S":55,"V":57,"H":53,"e":3},
{"k":24.7,"S":45,"V":47,"H":49,"e":3},
{"k":25.1,"S":38,"V":42,"H":40,"e":3},
{"k":25.5,"S":36,"V":33,"H":32,"e":3},
{"k":25.9,"S":27,"V":29,"H":25,"e":3},
{"k":26.3,"S":20,"V":22,"H":24,"e":3},
{"k":23.55,"S":18,"V":22,"H":20,"e":3},
{"k":23.95,"S":28,"V":25,"H":24,"e":3},
{"k":24.35,"S":32,"V":34,"H":30,"e":3},
{"k":24.75,"S":38,"V":40,"H":42,"e":3},
{"k":25.15,"S":46,"V":50,"H":48,"e":3},
{"k":25.55,"S":58,"V":55,"H":54,"e":3},
{"k":25.95,"S":60,"V":62,"H":58,"e":3},
{"k":26.35,"S":62,"V":64,"H":66,"e":3},
{"k":26.45,"S":250,"e":260},
{"k":26.55,"S":20,"V":18,"H":22,"e":5},
{"k":26.5,"S":60,"V":58,"H":62,"e":8}
]
},
"vconcat":[
{
 "width":555,"height":186,
 "resolve":{"axis":{"x":"independent","y":"independent"}},
 "layer":[
  {
   "data":{"name":"bx"},
   "transform":[{"fold":["S","V","H"],"as":["m","b"]},{"filter":"isValid(datum.b)"}],
   "mark":{"type":"errorbar","ticks":{"size":5},"thickness":1,"clip":true},
   "encoding":{
    "x":{"field":"k","type":"quantitative","scale":{"domain":[0,26.66],"nice":false,"zero":false},"axis":{"orient":"bottom","values":[0,5,10,15,20,25],"title":null,"labelPadding":11}},
    "y":{"field":"b","type":"quantitative","scale":{"domain":[0,500],"nice":false},"axis":{"orient":"left","values":[0,100,200,300,400,500],"title":"βₓ [m]","labelPadding":10,"titlePadding":12}},
    "yError":{"field":"e"},
    "color":{"field":"m","type":"nominal","scale":{"domain":["S","V","H"],"range":["#0000ff","#ff0000","#000000"]}}
   }
  },
  {
   "data":{"name":"bx"},
   "transform":[{"fold":["S","V","H"],"as":["m","b"]},{"filter":"isValid(datum.b)"}],
   "mark":{"type":"point","shape":"square","filled":false,"size":5,"strokeWidth":1,"opacity":1,"clip":true},
   "encoding":{
    "x":{"field":"k","type":"quantitative","axis":{"orient":"top","values":[0,5,10,15,20,25],"labels":false,"title":null}},
    "y":{"field":"b","type":"quantitative","axis":{"orient":"right","values":[0,100,200,300,400,500],"labels":false,"title":null}},
    "color":{"field":"m","type":"nominal","scale":{"domain":["S","V","H"],"range":["#0000ff","#ff0000","#000000"]},
     "legend":{"orient":"none","legendX":234,"legendY":0,"title":null,"labelExpr":"datum.label=='S'?'Sussix':datum.label=='V'?'SVD':'Harmonic Analysis'","labelAlign":"right","labelOffset":-29,"symbolOffset":198,"symbolType":"M-1,-0.35L-1,0.35M-1,0L1,0M1,-0.35L1,0.35M-0.15,-0.15L0.15,-0.15L0.15,0.15L-0.15,0.15Z","symbolSize":300,"symbolStrokeWidth":1,"symbolFillColor":"transparent","labelFont":"Liberation Sans","labelFontSize":22,"labelColor":"black","labelLimit":400,"padding":4,"rowPadding":-3,"strokeColor":"black","fillColor":"white"}}
   }
  },
  {
   "data":{"values":[{"ir":"IR1","s":3.37},{"ir":"IR2","s":6.25},{"ir":"IR3","s":9.86},{"ir":"IR4","s":13.17},{"ir":"IR5","s":16.6},{"ir":"IR6","s":19.9},{"ir":"IR7","s":23.1}]},
   "mark":{"type":"text","fontSize":16,"font":"Liberation Sans","baseline":"middle","dy":-14,"color":"black"},
   "encoding":{
    "x":{"field":"s","type":"quantitative","axis":null},
    "y":{"datum":500,"type":"quantitative","axis":null},
    "text":{"field":"ir"}
   }
  }
 ]
},
{
 "width":555,"height":167,
 "resolve":{"axis":{"x":"independent","y":"independent"}},
 "layer":[
  {
   "data":{"name":"by"},
   "transform":[{"fold":["S","V","H"],"as":["m","b"]},{"filter":"isValid(datum.b)"}],
   "mark":{"type":"errorbar","ticks":{"size":5},"thickness":1,"clip":true},
   "encoding":{
    "x":{"field":"k","type":"quantitative","scale":{"domain":[0,26.66],"nice":false,"zero":false},"axis":{"orient":"bottom","values":[0,5,10,15,20,25],"title":"Longitudinal location [km]","titleFontSize":22,"labelPadding":15,"titlePadding":2}},
    "y":{"field":"b","type":"quantitative","scale":{"domain":[0,500],"nice":false},"axis":{"orient":"left","values":[0,100,200,300,400,500],"title":"βᵧ [m]","labelPadding":10,"titlePadding":12}},
    "yError":{"field":"e"},
    "color":{"field":"m","type":"nominal","scale":{"domain":["S","V","H"],"range":["#0000ff","#ff0000","#000000"]},"legend":null}
   }
  },
  {
   "data":{"name":"by"},
   "transform":[{"fold":["S","V","H"],"as":["m","b"]},{"filter":"isValid(datum.b)"}],
   "mark":{"type":"point","shape":"square","filled":false,"size":5,"strokeWidth":1,"opacity":1,"clip":true},
   "encoding":{
    "x":{"field":"k","type":"quantitative","axis":{"orient":"top","values":[0,5,10,15,20,25],"labels":false,"title":null}},
    "y":{"field":"b","type":"quantitative","axis":{"orient":"right","values":[0,100,200,300,400,500],"labels":false,"title":null}},
    "color":{"field":"m","type":"nominal","scale":{"domain":["S","V","H"],"range":["#0000ff","#ff0000","#000000"]},"legend":null}
   }
  }
 ]
}
]
}
